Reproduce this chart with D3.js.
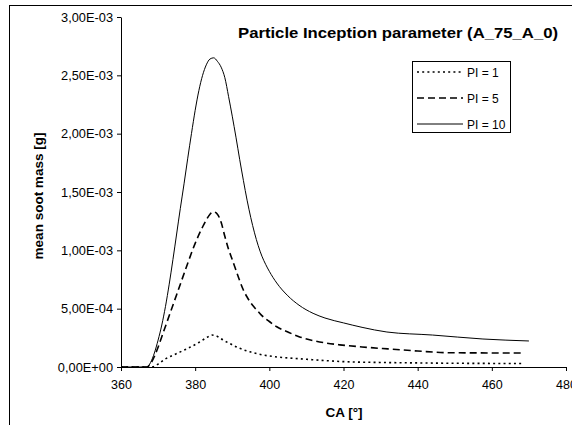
<!DOCTYPE html>
<html>
<head>
<meta charset="utf-8">
<script src="https://cdn.jsdelivr.net/npm/d3@7/dist/d3.min.js"></script>
<style>
  html, body { margin: 0; padding: 0; background: #fff; }
  svg { display: block; font-family: "Liberation Sans", Arial, sans-serif; }
</style>
</head>
<body>
<svg id="chart" width="572" height="425"></svg>
<script>
// ---- data (values in 1e-3 g) ----
const seriesNames = ["PI = 1", "PI = 5", "PI = 10"];
const xTicks = [360, 380, 400, 420, 440, 460, 480];
const yTicks = [0, 0.5e-3, 1.0e-3, 1.5e-3, 2.0e-3, 2.5e-3, 3.0e-3];
const yTickLabels = ["0,00E+00", "5,00E-04", "1,00E-03", "1,50E-03", "2,00E-03", "2,50E-03", "3,00E-03"];

const caPI1 = [360, 364, 367, 368.6, 370, 372, 375, 378, 381, 383, 384.5, 386, 387.5, 389.4, 392, 394.8, 398, 401, 405, 410, 415, 420, 430, 440, 450, 468.4];
const valPI1 = [0, 0, 0, 0.002, 0.025, 0.07, 0.115, 0.16, 0.21, 0.25, 0.274, 0.262, 0.232, 0.2, 0.16, 0.13, 0.105, 0.09, 0.078, 0.066, 0.055, 0.046, 0.039, 0.035, 0.032, 0.03];

const caPI5 = [360, 364, 367, 368, 369, 370, 371, 372, 374, 376, 378, 380, 382, 383, 384, 385, 386, 387, 388, 389, 390, 391, 392, 393, 394, 395, 396, 397, 398, 400, 402, 405, 408, 412, 419, 425, 432, 440, 449, 468.4];
const valPI5 = [0, 0, 0, 0.03, 0.09, 0.17, 0.26, 0.35, 0.53, 0.71, 0.89, 1.06, 1.2, 1.26, 1.31, 1.33, 1.31, 1.24, 1.12, 1.01, 0.92, 0.83, 0.74, 0.66, 0.6, 0.55, 0.51, 0.475, 0.44, 0.39, 0.345, 0.3, 0.26, 0.225, 0.19, 0.172, 0.155, 0.137, 0.122, 0.12];

const caPI10 = [360, 364, 367, 368, 369, 370, 371, 372, 373, 374, 375, 376, 377, 378, 379, 380, 381, 382, 383, 384, 385, 386, 387, 388, 389, 390, 391, 392, 393, 394, 395, 396, 397, 398, 399, 400, 402, 405, 408, 411.8, 415, 420, 425, 431.7, 444, 457.6, 470];
const valPI10 = [0, 0, 0, 0.04, 0.12, 0.23, 0.36, 0.52, 0.71, 0.92, 1.14, 1.36, 1.57, 1.79, 2.0, 2.2, 2.37, 2.5, 2.59, 2.64, 2.65, 2.62, 2.57, 2.48, 2.32, 2.15, 1.97, 1.78, 1.6, 1.43, 1.28, 1.15, 1.04, 0.95, 0.88, 0.82, 0.72, 0.61, 0.53, 0.46, 0.42, 0.378, 0.34, 0.3, 0.274, 0.24, 0.223];

const series = [
  { name: seriesNames[0], ca: caPI1, val: valPI1, dash: "2,3.2", width: 1.6 },
  { name: seriesNames[1], ca: caPI5, val: valPI5, dash: "7,4", width: 1.6 },
  { name: seriesNames[2], ca: caPI10, val: valPI10, dash: null, width: 1 }
];

// ---- layout ----
const svg = d3.select("#chart");
const x = d3.scaleLinear().domain([360, 480]).range([121, 566]);
const y = d3.scaleLinear().domain([0, 3e-3]).range([367, 17]);

// outer frame
svg.append("rect").attr("x", 9.5).attr("y", 5.5).attr("width", 600).attr("height", 500)
  .attr("fill", "none").attr("stroke", "#000").attr("stroke-width", 1);

// axes
const xAxis = d3.axisBottom(x).tickValues(xTicks).tickSize(4).tickSizeOuter(0).tickFormat(d3.format("d"));
const gx = svg.append("g").attr("transform", `translate(0,${y(0)})`).call(xAxis);
gx.selectAll("text").attr("font-size", 12.5).attr("fill", "#000").attr("dy", "1.2em");
gx.selectAll("line").attr("stroke", "#000");
gx.select(".domain").attr("stroke", "#000");

const yAxis = d3.axisLeft(y).tickValues(yTicks).tickSize(4).tickSizeOuter(0)
  .tickFormat((d, i) => yTickLabels[i]);
const gy = svg.append("g").attr("transform", `translate(${x(360)},0)`).call(yAxis);
gy.selectAll("text").attr("font-size", 12.8).attr("fill", "#000").attr("x", -8);
gy.selectAll("line").attr("stroke", "#000");
gy.select(".domain").attr("stroke", "#000");

// lines
const line = d3.line().x(d => x(d[0])).y(d => y(d[1] * 1e-3)).curve(d3.curveMonotoneX);
series.forEach(s => {
  const pts = s.ca.map((c, i) => [c, s.val[i]]);
  svg.append("path").datum(pts).attr("d", line)
    .attr("fill", "none").attr("stroke", "#000").attr("stroke-width", s.width)
    .attr("stroke-dasharray", s.dash);
});

// title
svg.append("text").attr("x", 238).attr("y", 38).attr("font-size", 15.5).attr("font-weight", "bold")
  .attr("textLength", 320).attr("lengthAdjust", "spacingAndGlyphs")
  .text("Particle Inception parameter (A_75_A_0)");

// axis titles
svg.append("text").attr("x", 344).attr("y", 417).attr("text-anchor", "middle")
  .attr("font-size", 13.5).attr("font-weight", "bold").text("CA [°]");
svg.append("text").attr("transform", "translate(43,196) rotate(-90)").attr("text-anchor", "middle")
  .attr("font-size", 13.5).attr("font-weight", "bold").text("mean soot mass [g]");

// legend
const lg = svg.append("g");
lg.append("rect").attr("x", 412.5).attr("y", 61.5).attr("width", 98).attr("height", 71)
  .attr("fill", "#fff").attr("stroke", "#000").attr("stroke-width", 1);
const rowY = [72, 98, 124];
series.forEach((s, i) => {
  lg.append("line").attr("x1", 417).attr("x2", 463).attr("y1", rowY[i]).attr("y2", rowY[i])
    .attr("stroke", "#000").attr("stroke-width", s.width).attr("stroke-dasharray", s.dash);
  lg.append("text").attr("x", 467).attr("y", rowY[i] + 4.5).attr("font-size", 12).text(s.name);
});
</script>
</body>
</html>
